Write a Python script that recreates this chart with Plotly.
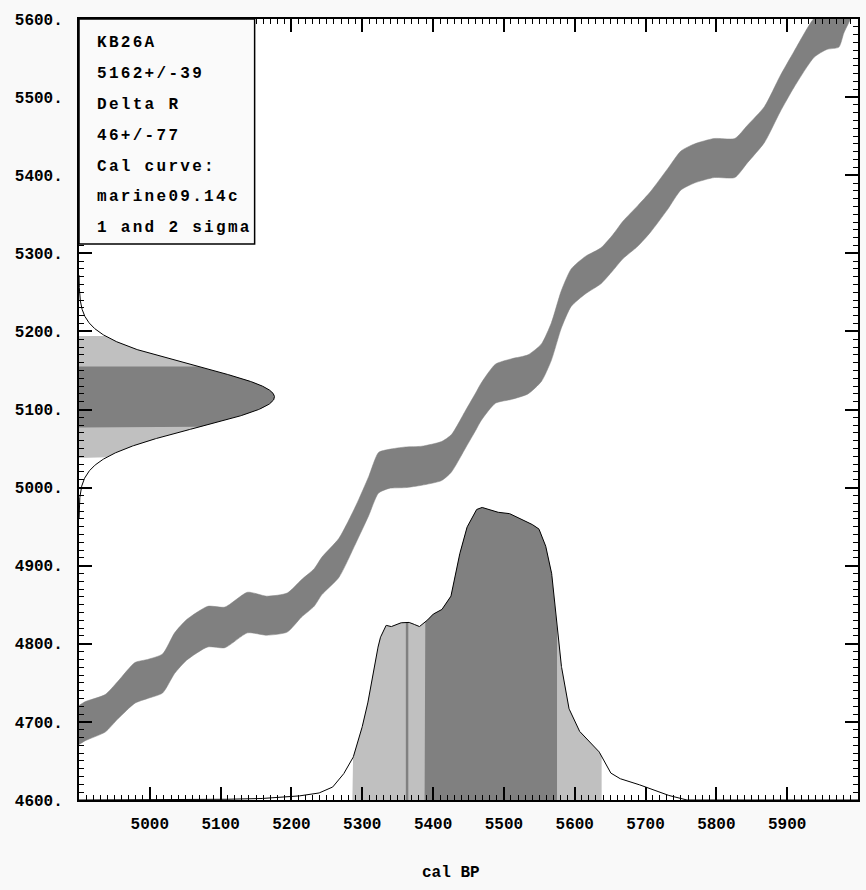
import numpy as np
import plotly.graph_objects as go

# Marine calibration curve (cal BP, conventional 14C age, 1-sigma)
cal_bp = [4900, 4909, 4937, 4955, 4979, 4997, 5018, 5035, 5052, 5082, 5106, 5138, 5165,
          5194, 5214, 5232, 5243, 5267, 5291, 5309, 5323, 5338, 5361, 5384, 5412, 5426,
          5446, 5460, 5468, 5488, 5511, 5534, 5553, 5567, 5581, 5595, 5615, 5637, 5654,
          5668, 5689, 5707, 5731, 5750, 5769, 5797, 5826, 5844, 5868, 5890, 5910, 5938,
          5956, 5973, 5980, 5989, 6000]
c14_age = [4696, 4701, 4711, 4728, 4750, 4755, 4762, 4788, 4805, 4822, 4821, 4840, 4836,
           4840, 4858, 4872, 4887, 4910, 4953, 4989, 5019, 5024, 5026, 5028, 5034, 5044,
           5075, 5097, 5110, 5133, 5139, 5145, 5160, 5187, 5228, 5256, 5272, 5284, 5301,
           5317, 5335, 5353, 5382, 5406, 5415, 5422, 5422, 5440, 5465, 5504, 5536, 5576,
           5586, 5589, 5607, 5624, 5645]
c14_err = [25, 25, 24, 24, 26, 25, 25, 26, 26, 26, 26, 26, 25,
           25, 24, 24, 24, 25, 24, 25, 26, 25, 26, 25, 25, 24,
           24, 24, 24, 25, 26, 25, 24, 24, 24, 24, 24, 23, 23,
           24, 26, 26, 26, 25, 25, 25, 25, 24, 23, 23, 23, 25,
           25, 25, 25, 25, 25]

# Calibrated age probability distribution (relative to its maximum)
prob_cal_bp = [4900, 5000, 5070, 5140, 5200, 5239, 5257, 5271, 5286, 5295, 5305, 5314,
               5324, 5333, 5340, 5352, 5363, 5370, 5380, 5390, 5398, 5412, 5425, 5433,
               5446, 5460, 5468, 5488, 5506, 5534, 5549, 5558, 5567, 5572, 5579, 5591,
               5605, 5619, 5633, 5643, 5651, 5661, 5685, 5703, 5721, 5745, 5755, 6000]
prob_rel = [0, 0, 0.002, 0.003, 0.010, 0.024, 0.041, 0.079, 0.137, 0.205, 0.297, 0.409,
            0.546, 0.597, 0.591, 0.604, 0.608, 0.604, 0.591, 0.608, 0.632, 0.649, 0.693, 0.795,
            0.922, 0.990, 1.000, 0.983, 0.980, 0.949, 0.928, 0.877, 0.785, 0.659, 0.488, 0.317,
            0.239, 0.205, 0.171, 0.126, 0.092, 0.075, 0.058, 0.041, 0.024, 0.007, 0, 0]

# Sample information
sample_id = "KB26A"
c14_measured = 5162
c14_measured_sigma = 39
delta_r = 46
delta_r_sigma = 77
curve_file = "marine09.14c"

# Calibrated age ranges (cal BP)
sigma1_ranges = [(5362, 5364.5), (5388, 5575)]
sigma2_ranges = [(5286, 5638)]

# Axis ticks
x_tick_vals = [5000, 5100, 5200, 5300, 5400, 5500, 5600, 5700, 5800, 5900]
x_tick_text = ["5000", "5100", "5200", "5300", "5400", "5500", "5600", "5700", "5800", "5900"]
y_tick_vals = [4600, 4700, 4800, 4900, 5000, 5100, 5200, 5300, 5400, 5500, 5600]
y_tick_text = ["4600.", "4700.", "4800.", "4900.", "5000.", "5100.", "5200.", "5300.",
               "5400.", "5500.", "5600."]

X_MIN, X_MAX = 4900, 6000
Y_MIN, Y_MAX = 4600, 5600
DARK = "#808080"
LIGHT = "#c0c0c0"
FONT = "Liberation Mono"
PROB_HEIGHT = 375   # y-units taken by the most probable calendar age
GAUSS_WIDTH = 276   # x-units taken by the peak of the 14C age distribution

fig = go.Figure()


def poly(x, y, color):
    fig.add_trace(go.Scatter(x=list(x), y=list(y), mode="lines", fill="toself",
                             fillcolor=color, line=dict(width=0),
                             hoverinfo="skip", showlegend=False))


# Calibration curve band (age +/- 1 sigma)
upper = [a + e for a, e in zip(c14_age, c14_err)]
lower = [a - e for a, e in zip(c14_age, c14_err)]
fig.add_trace(go.Scatter(x=cal_bp, y=lower, mode="lines",
                         line=dict(width=0.5, color=DARK, shape="spline", smoothing=0.6),
                         hoverinfo="skip", showlegend=False))
fig.add_trace(go.Scatter(x=cal_bp, y=upper, mode="lines", fill="tonexty", fillcolor=DARK,
                         line=dict(width=0.5, color=DARK, shape="spline", smoothing=0.6),
                         hoverinfo="skip", showlegend=False))

# Calibrated probability distribution along the calendar axis
xs = np.arange(X_MIN, X_MAX + 0.25, 0.25)
ys = Y_MIN + PROB_HEIGHT * np.interp(xs, prob_cal_bp, prob_rel)


def cal_region(lo, hi, color):
    m = (xs > lo) & (xs < hi)
    ylo = Y_MIN + PROB_HEIGHT * np.interp(lo, prob_cal_bp, prob_rel)
    yhi = Y_MIN + PROB_HEIGHT * np.interp(hi, prob_cal_bp, prob_rel)
    px = np.concatenate([[lo, lo], xs[m], [hi, hi]])
    py = np.concatenate([[Y_MIN, ylo], ys[m], [yhi, Y_MIN]])
    poly(px, py, color)


for lo, hi in sigma2_ranges:
    cal_region(lo, hi, LIGHT)
for lo, hi in sigma1_ranges:
    cal_region(lo, hi, DARK)
    # narrow ranges still get a visible stripe
    if hi - lo < 5:
        mid = 0.5 * (lo + hi)
        top = Y_MIN + PROB_HEIGHT * np.interp(mid, prob_cal_bp, prob_rel)
        fig.add_trace(go.Scatter(x=[mid, mid], y=[Y_MIN, top], mode="lines",
                                 line=dict(color=DARK, width=2.5),
                                 hoverinfo="skip", showlegend=False))
fig.add_trace(go.Scatter(x=xs, y=ys, mode="lines", line=dict(color="black", width=1),
                         hoverinfo="skip", showlegend=False))

# Reservoir-corrected 14C age as a normal distribution on the 14C axis
mu = c14_measured - delta_r
sd = c14_measured_sigma
gy = np.linspace(mu - 4 * sd, mu + 4 * sd, 801)
gx = X_MIN + GAUSS_WIDTH * np.exp(-0.5 * ((gy - mu) / sd) ** 2)


def age_region(k, color):
    m = (gy >= mu - k * sd) & (gy <= mu + k * sd)
    px = np.concatenate([[X_MIN], gx[m], [X_MIN]])
    py = np.concatenate([[gy[m][0]], gy[m], [gy[m][-1]]])
    poly(px, py, color)


age_region(2, LIGHT)
age_region(1, DARK)
fig.add_trace(go.Scatter(x=gx, y=gy, mode="lines", line=dict(color="black", width=1),
                         hoverinfo="skip", showlegend=False))

# Information box
info_lines = [sample_id,
              f"{c14_measured}+/-{c14_measured_sigma}",
              "Delta R",
              f"{delta_r}+/-{delta_r_sigma}",
              "Cal curve:",
              curve_file,
              "1 and 2 sigma"]
fig.add_shape(type="rect", xref="x", yref="y", x0=X_MIN, x1=5148, y0=5312, y1=Y_MAX,
              line=dict(color="black", width=1.5), fillcolor="#fafafa", layer="above")
for i, line in enumerate(info_lines):
    fig.add_annotation(x=4922, y=5569 - 39.5 * i, xref="x", yref="y",
                       text=f'<span style="letter-spacing:2.3px">{line}</span>',
                       showarrow=False, xanchor="left", yanchor="middle",
                       font=dict(family=FONT, size=16, color="black", weight="bold"))

fig.add_annotation(x=0.4776, y=-0.0935, xref="paper", yref="paper", text="cal BP",
                   showarrow=False, xanchor="center", yanchor="middle",
                   font=dict(family=FONT, size=16, color="black", weight="bold"))

axis_common = dict(showline=True, linewidth=2, linecolor="black", mirror="ticks",
                   ticks="inside", ticklen=13, tickwidth=1.5, tickcolor="black",
                   showgrid=False, zeroline=False,
                   tickfont=dict(family=FONT, size=16, color="black", weight="bold"))

fig.update_xaxes(range=[X_MIN, X_MAX], tickvals=x_tick_vals, ticktext=x_tick_text,
                 ticklabelstandoff=8,
                 minor=dict(ticks="inside", ticklen=5, tickwidth=1, tickcolor="black",
                            dtick=10, tick0=X_MIN, showgrid=False),
                 **axis_common)
fig.update_yaxes(range=[Y_MIN, Y_MAX], tickvals=y_tick_vals, ticktext=y_tick_text,
                 ticklabelstandoff=11,
                 minor=dict(ticks="inside", ticklen=5, tickwidth=1, tickcolor="black",
                            dtick=10, tick0=Y_MIN, showgrid=False),
                 **axis_common)

fig.update_layout(width=866, height=890, margin=dict(l=79, r=6, t=19, b=90),
                  paper_bgcolor="#f9f9f9", plot_bgcolor="white", showlegend=False)

fig.write_html("out.html")
